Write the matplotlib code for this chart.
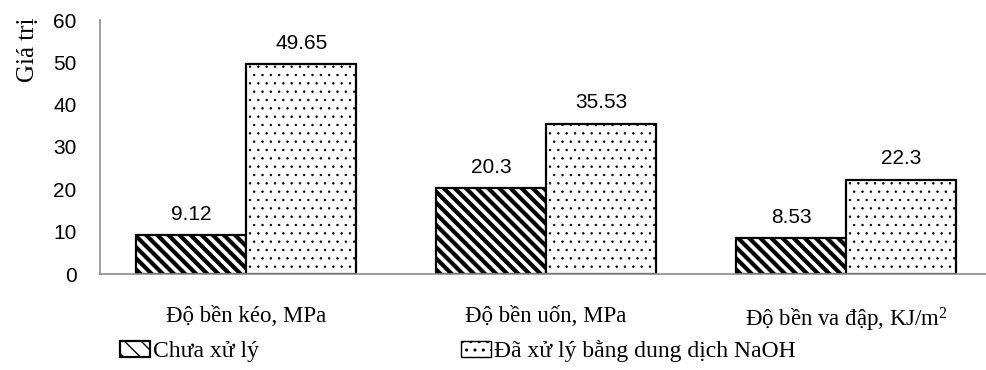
"""Bieu do cot: do ben cua vat lieu truoc va sau khi xu ly NaOH."""

import matplotlib

matplotlib.use("Agg")
import matplotlib.pyplot as plt
import numpy as np
from matplotlib.patches import Patch


categories = ["Độ bền kéo, MPa", "Độ bền uốn, MPa", r"Độ bền va đập, KJ/m$^{\mathrm{2}}$"]
chua_xu_ly = [9.12, 20.3, 8.53]
da_xu_ly = [49.65, 35.53, 22.3]
value_labels_1 = ["9.12", "20.3", "8.53"]
value_labels_2 = ["49.65", "35.53", "22.3"]
series_names = ["Chưa xử lý", "Đã xử lý bằng dung dịch NaOH"]
yticks = [0, 10, 20, 30, 40, 50, 60]

SERIF = "Liberation Serif"
SANS = "Liberation Sans"
HATCH_SOC = "\\" * 3   # ba dau gach cheo -> soc day
HATCH_CHAM = ".."
LW_SOC = 3.0
LW_CHAM = 0.5

plt.rcParams["mathtext.fontset"] = "custom"
plt.rcParams["mathtext.rm"] = SERIF
plt.rcParams["mathtext.it"] = SERIF + ":italic"

fig = plt.figure(figsize=(9.87, 3.70), dpi=100)
ax = fig.add_axes([100 / 987, 96 / 370, 887 / 987, 254 / 370])

x = np.arange(len(categories))
w = 0.367

with plt.rc_context({"hatch.linewidth": LW_SOC}):
    bars1 = ax.bar(x - w / 2, chua_xu_ly, w, facecolor="white", edgecolor="black",
                   linewidth=1.6, hatch=HATCH_SOC)
    h1 = Patch(facecolor="white", edgecolor="black", hatch="\\" * 2, linewidth=1.6)
with plt.rc_context({"hatch.linewidth": LW_CHAM}):
    bars2 = ax.bar(x + w / 2, da_xu_ly, w, facecolor="white", edgecolor="black",
                   linewidth=1.6, hatch=HATCH_CHAM)
    h2 = Patch(facecolor="white", edgecolor="black", hatch=HATCH_CHAM, linewidth=1.0)

for b in list(bars1) + [h1]:
    if hasattr(b, "set_hatch_linewidth"):
        b.set_hatch_linewidth(LW_SOC)
for b in list(bars2) + [h2]:
    if hasattr(b, "set_hatch_linewidth"):
        b.set_hatch_linewidth(LW_CHAM)

for xi, v, lab in zip(x - w / 2, chua_xu_ly, value_labels_1):
    ax.annotate(lab, (xi, v), xytext=(0, 8), textcoords="offset points",
                ha="center", va="bottom", fontsize=15, family=SANS)
for xi, v, lab in zip(x + w / 2, da_xu_ly, value_labels_2):
    ax.annotate(lab, (xi, v), xytext=(0, 8), textcoords="offset points",
                ha="center", va="bottom", fontsize=15, family=SANS)

ax.set_xlim(-0.487, -0.487 + 887 / 300)
ax.set_ylim(0, 60)
ax.set_yticks(yticks)
ax.set_yticklabels([str(t) for t in yticks], fontsize=15, family=SANS)
ax.set_xticks(x)
ax.set_xticklabels(categories, fontsize=16.5, family=SERIF)
ax.tick_params(axis="y", length=0, pad=17)
ax.tick_params(axis="x", length=0, pad=23)

for side in ["top", "right"]:
    ax.spines[side].set_visible(False)
for side in ["left", "bottom"]:
    ax.spines[side].set_color("#8c8c8c")
    ax.spines[side].set_linewidth(1.2)

fig.text(28 / 987, 1 - 50 / 370, "Giá trị", rotation=90, ha="center", va="center",
         fontsize=18, family=SERIF)

leg = fig.legend([h1, h2], series_names, loc="center left",
                 bbox_to_anchor=(120 / 987, 1 - 351 / 370), ncol=2, frameon=False,
                 prop={"family": SERIF, "size": 17}, handlelength=1.27, handleheight=0.66,
                 handletextpad=0.13, columnspacing=8.55, borderpad=0, borderaxespad=0)

fig.savefig("out.png", dpi=100)
